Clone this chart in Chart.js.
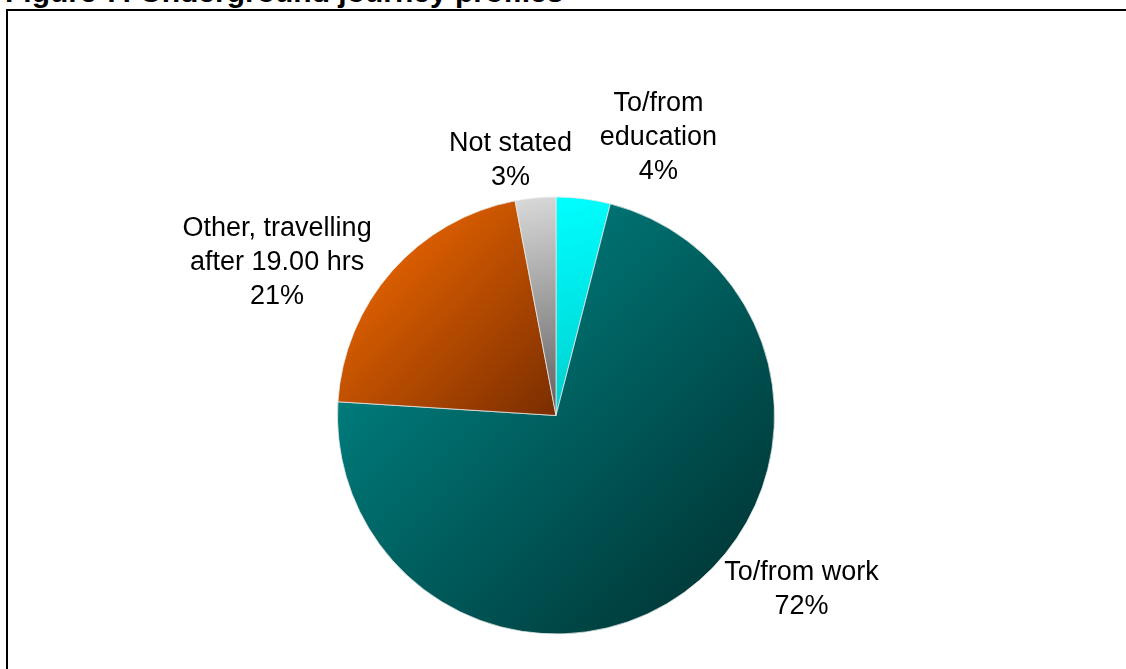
<!DOCTYPE html>
<html>
<head>
<meta charset="utf-8">
<title>Underground journey profiles</title>
<script src="https://cdn.jsdelivr.net/npm/chart.js@4/dist/chart.umd.min.js"></script>
<style>
  html, body { margin: 0; padding: 0; background: #fff; overflow: hidden; }
  body { width: 1126px; height: 669px; position: relative; }
  #title {
    position: absolute; left: 5px; top: -23px;
    font: bold 30px Arial, "Liberation Sans", sans-serif;
    line-height: 30px; color: #000; white-space: nowrap;
  }
  #frame {
    position: absolute; left: 6px; top: 9px; width: 1200px; height: 700px;
    border-top: 2px solid #000; border-left: 2px solid #000;
  }
  #chart { position: absolute; left: 0; top: 0; }
</style>
</head>
<body>
<div id="title">Figure 7: Underground journey profiles</div>
<div id="frame"></div>
<canvas id="chart" width="1126" height="669"></canvas>
<script>
// Journey purpose shares (%), clockwise from 12 o'clock
const categories = [
  ['To/from', 'education'],
  ['To/from work'],
  ['Other, travelling', 'after 19.00 hrs'],
  ['Not stated']
];
const shares = [4, 72, 21, 3];

// Light -> dark gradient stops for each slice
const sliceShades = [
  ['rgb(0,255,255)', 'rgb(0,205,205)'],
  ['rgb(0,145,145)', 'rgb(0,45,45)'],
  ['rgb(255,112,0)', 'rgb(122,45,0)'],
  ['rgb(218,218,218)', 'rgb(95,95,95)']
];

// Where each label block sits relative to the rim point at the slice's mid-angle
const labelShift = [[75, -61], [117, -3], [-115, -8], [-25, -37]];

function sliceGradient(ctx) {
  const chart = ctx.chart;
  const area = chart.chartArea;
  const i = ctx.dataIndex;
  if (!area || i === undefined) return sliceShades[i || 0][0];
  const cx = (area.left + area.right) / 2;
  const cy = (area.top + area.bottom) / 2;
  const r = Math.min(area.right - area.left, area.bottom - area.top) / 2;
  const total = shares.reduce((a, b) => a + b, 0);
  let before = 0;
  for (let k = 0; k < i; k++) before += shares[k];
  const a0 = -Math.PI / 2 + (before / total) * 2 * Math.PI;
  const a1 = a0 + (shares[i] / total) * 2 * Math.PI;
  const xs = [cx, cx + r * Math.cos(a0), cx + r * Math.cos(a1)];
  const ys = [cy, cy + r * Math.sin(a0), cy + r * Math.sin(a1)];
  for (let q = -2; q <= 4; q++) {
    const a = q * Math.PI / 2;
    if (a > a0 && a < a1) { xs.push(cx + r * Math.cos(a)); ys.push(cy + r * Math.sin(a)); }
  }
  const g = chart.ctx.createLinearGradient(Math.min(...xs), Math.min(...ys), Math.max(...xs), Math.max(...ys));
  g.addColorStop(0, sliceShades[i][0]);
  g.addColorStop(1, sliceShades[i][1]);
  return g;
}

// Category + percentage text outside each slice
const sliceLabels = {
  id: 'sliceLabels',
  afterDatasetsDraw(chart, args, opts) {
    const c = chart.ctx;
    const arcs = chart.getDatasetMeta(0).data;
    c.save();
    c.font = opts.font;
    c.fillStyle = opts.color;
    c.textAlign = 'center';
    c.textBaseline = 'middle';
    arcs.forEach((arc, i) => {
      const p = arc.getProps(['x', 'y', 'startAngle', 'endAngle', 'outerRadius'], true);
      const mid = (p.startAngle + p.endAngle) / 2;
      const ax = p.x + Math.cos(mid) * p.outerRadius + opts.shift[i][0];
      const ay = p.y + Math.sin(mid) * p.outerRadius + opts.shift[i][1];
      const lines = categories[i].concat([chart.data.datasets[0].data[i] + '%']);
      const top = ay - (lines.length - 1) * opts.lineHeight / 2;
      lines.forEach((t, k) => c.fillText(t, ax, top + k * opts.lineHeight));
    });
    c.restore();
  }
};

new Chart(document.getElementById('chart'), {
  type: 'pie',
  data: {
    labels: categories.map(l => l.join(' ')),
    datasets: [{
      data: shares,
      backgroundColor: sliceGradient,
      borderColor: 'rgba(235,235,235,0.75)',
      borderWidth: 1
    }]
  },
  options: {
    responsive: false,
    animation: false,
    devicePixelRatio: 1,
    events: [],
    layout: { padding: { left: 337, right: 351, top: 196, bottom: 34 } },
    plugins: {
      legend: { display: false },
      tooltip: { enabled: false },
      title: { display: false },
      sliceLabels: {
        font: '27px Arial, "Liberation Sans", sans-serif',
        color: '#000',
        lineHeight: 34,
        shift: labelShift
      }
    }
  },
  plugins: [sliceLabels]
});
</script>
</body>
</html>
